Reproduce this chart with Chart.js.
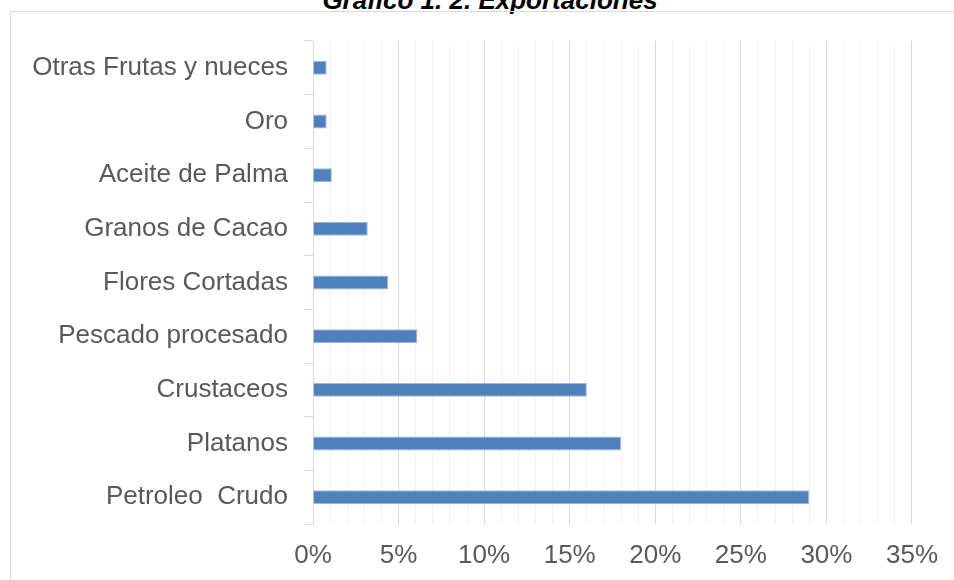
<!DOCTYPE html>
<html>
<head>
<meta charset="utf-8">
<title>Exportaciones</title>
<script src="https://cdn.jsdelivr.net/npm/chart.js@4.4.1/dist/chart.umd.min.js"></script>
<style>
  html, body { margin: 0; padding: 0; background: #fff; overflow: hidden; }
  #wrap { position: relative; width: 954px; height: 580px; }
  #titulo {
    position: absolute; left: 0; width: 980px; top: -15px;
    text-align: center; line-height: 26px;
    font: bold italic 26px "Liberation Sans", Arial, sans-serif; color: #000;
  }
  #marco {
    position: absolute; left: 10px; top: 11px; width: 960px; height: 600px;
    border-left: 1px solid #d9d9d9; border-top: 1px solid #d9d9d9;
  }
  #grafico { position: absolute; left: 0; top: 0; }
</style>
</head>
<body>
<div id="wrap">
  <div id="titulo">Gráfico 1. 2. Exportaciones</div>
  <div id="marco"></div>
  <canvas id="grafico" width="954" height="580"></canvas>
</div>
<script>
// datos (porcentaje del total exportado)
var categorias = [
  'Otras Frutas y nueces',
  'Oro',
  'Aceite de Palma',
  'Granos de Cacao',
  'Flores Cortadas',
  'Pescado procesado',
  'Crustaceos',
  'Platanos',
  'Petroleo  Crudo'
];
var valores = [0.8, 0.8, 1.1, 3.2, 4.4, 6.1, 16, 18, 29];
var ejeMax = 35;

var fuente = '"Liberation Sans", Arial, sans-serif';
var gris = '#595959';

var ctx = document.getElementById('grafico').getContext('2d');
var chart = new Chart(ctx, {
  type: 'bar',
  data: {
    labels: categorias,
    datasets: [{
      data: valores,
      backgroundColor: '#4F81BD',
      borderColor: '#9FB9DB',
      borderWidth: 1,
      barPercentage: 0.5,
      categoryPercentage: 0.52
    }]
  },
  options: {
    indexAxis: 'y',
    responsive: false,
    animation: false,
    layout: { padding: { top: 41, right: 41, left: 0, bottom: 0 } },
    plugins: {
      legend: { display: false },
      tooltip: { enabled: false },
      title: { display: false }
    },
    scales: {
      x: {
        min: 0,
        max: ejeMax,
        border: { display: false },
        grid: {
          drawTicks: false,
          lineWidth: 1,
          color: function (c) {
            return c.tick && c.tick.value % 5 === 0 ? '#d9d9d9' : '#f2f2f2';
          }
        },
        ticks: {
          stepSize: 1,
          autoSkip: false,
          maxRotation: 0,
          padding: 16,
          color: gris,
          font: { family: fuente, size: 26 },
          callback: function (v) {
            return v % 5 === 0 ? v + '%' : '';
          }
        },
        afterFit: function (scale) { scale.height = 56; }
      },
      y: {
        border: { display: true, color: '#d9d9d9', width: 1 },
        grid: {
          drawOnChartArea: false,
          drawTicks: true,
          tickLength: 9,
          color: '#d9d9d9'
        },
        ticks: {
          padding: 16,
          color: gris,
          font: { family: fuente, size: 26 }
        },
        afterFit: function (scale) { scale.width = 313; }
      }
    }
  }
});
</script>
</body>
</html>
